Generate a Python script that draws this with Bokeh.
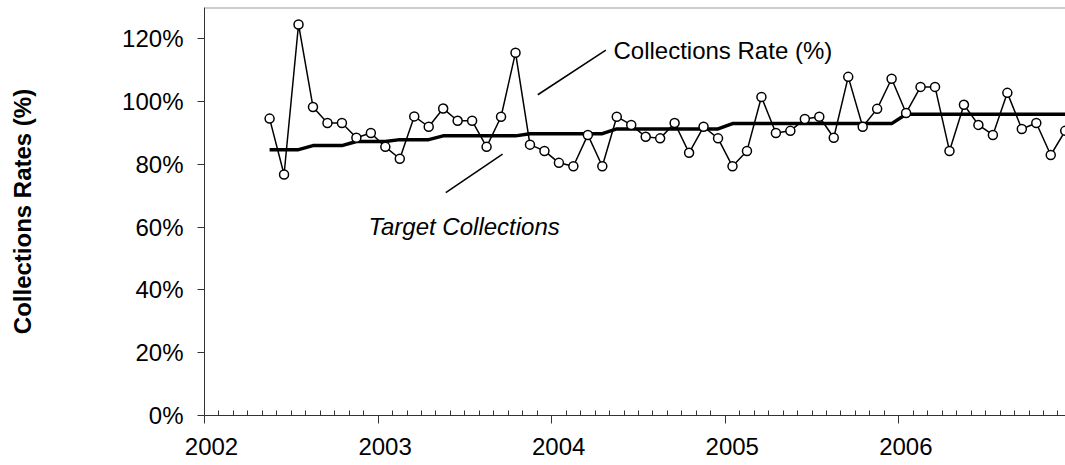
import pandas as pd
from bokeh.plotting import figure
from bokeh.models import (FixedTicker, PrintfTickFormatter, Range1d, Label, Span,
                          ColumnDataSource, LinearAxis, CustomJSTickFormatter)
from bokeh.embed import file_html
from bokeh.resources import INLINE

# ---------------- data ----------------
start_month = "2002-05"
n_months = 56
collections_rate = [
    94.6, 76.8, 124.6, 98.3, 93.2, 93.2, 88.5, 90.0, 85.6, 81.8,
    95.3, 92.0, 97.8, 93.9, 93.9, 85.6, 95.2, 115.6, 86.3, 84.3,
    80.5, 79.4, 89.4, 79.4, 95.2, 92.6, 88.8, 88.3, 93.2, 83.7,
    92.0, 88.3, 79.4, 84.3, 101.5, 90.0, 90.7, 94.5, 95.2, 88.5,
    107.9, 92.0, 97.7, 107.3, 96.4, 104.7, 104.7, 84.3, 99.0, 92.6,
    89.4, 102.8, 91.3, 93.2, 83.0, 90.7,
]
target_collections = (
    [84.7] * 3 + [86.0] * 3 + [87.3] * 3 + [87.9] * 3 + [89.1] * 6 +
    [89.8] * 6 + [91.3] * 8 + [93.0] * 12 + [96.0] * 12
)
year_ticks = [2002, 2003, 2004, 2005, 2006]
y_ticks = [0, 20, 40, 60, 80, 100, 120]

months = pd.date_range(start_month, periods=n_months, freq="MS")
xpos = [m.year + (m.month - 0.5) / 12.0 for m in months]

src = ColumnDataSource(dict(x=xpos, rate=collections_rate, target=target_collections))

FONT = "Liberation Sans"
AX = "#333333"
X0, X1 = 2002.0, 2006.96
PX_PER_YEAR = 173.6
LABEL_SHIFT = 7 / PX_PER_YEAR  # year labels sit slightly right of their ticks

p = figure(width=1065, height=465, output_backend="svg", toolbar_location=None,
           x_range=Range1d(X0, X1), y_range=Range1d(0, 130),
           min_border_left=204, min_border_right=0, min_border_top=7,
           min_border_bottom=50)
p.extra_x_ranges = {"lab": Range1d(X0 - LABEL_SHIFT, X1 - LABEL_SHIFT)}
p.outline_line_color = None
p.background_fill_color = "white"
p.border_fill_color = "white"
p.xgrid.visible = False
p.ygrid.visible = False

# top frame line
p.add_layout(Span(location=130, dimension="width", line_color="#999999", line_width=2))

# series
p.line("x", "target", source=src, line_color="black", line_width=3.5)
p.line("x", "rate", source=src, line_color="black", line_width=1.5)
p.scatter("x", "rate", source=src, size=9, marker="circle",
          fill_color="white", line_color="black", line_width=1.5)

# x axis: ticks only
xa = p.xaxis[0]
minor = [y + m / 12.0 for y in range(2002, 2007) for m in range(1, 12)]
xa.ticker = FixedTicker(ticks=year_ticks, minor_ticks=minor)
xa.formatter = CustomJSTickFormatter(code="return ''")
xa.axis_line_color = AX
xa.major_tick_line_color = AX
xa.minor_tick_line_color = AX
xa.major_tick_in = 0
xa.major_tick_out = 8
xa.minor_tick_in = 5
xa.minor_tick_out = 0
xa.major_label_standoff = 0
xa.major_label_text_font_size = "0px"

# x axis: year labels (shifted range)
xl = LinearAxis(x_range_name="lab", ticker=FixedTicker(ticks=year_ticks))
xl.axis_line_color = None
xl.major_tick_line_color = None
xl.minor_tick_line_color = None
xl.major_tick_in = 0
xl.major_tick_out = 0
xl.minor_tick_in = 0
xl.minor_tick_out = 0
xl.major_label_standoff = 14
xl.major_label_text_font = FONT
xl.major_label_text_font_size = "24px"
xl.major_label_text_color = "black"
p.add_layout(xl, "below")

# y axis
ya = p.yaxis[0]
ya.ticker = FixedTicker(ticks=y_ticks)
ya.formatter = PrintfTickFormatter(format="%d%%")
ya.axis_line_color = AX
ya.major_tick_line_color = AX
ya.minor_tick_line_color = None
ya.major_tick_in = 0
ya.major_tick_out = 7
ya.major_label_standoff = 14
ya.major_label_text_font = FONT
ya.major_label_text_font_size = "24px"
ya.major_label_text_color = "black"
ya.axis_label = "Collections Rates (%)"
ya.axis_label_text_font = FONT
ya.axis_label_text_font_size = "24px"
ya.axis_label_text_font_style = "bold"
ya.axis_label_text_color = "black"
ya.axis_label_standoff = 83

# annotations
p.add_layout(Label(x=2004.356, y=116.3, text="Collections Rate (%)", text_font=FONT,
                   text_font_size="24px", text_align="left", text_baseline="alphabetic",
                   text_color="black"))
p.add_layout(Label(x=2002.945, y=60.1, text="Target Collections", text_font=FONT,
                   text_font_size="24px", text_font_style="italic", text_align="left",
                   text_baseline="alphabetic", text_color="black"))
p.segment(x0=[2003.920, 2003.390], y0=[102.2, 71.0], x1=[2004.312, 2003.717],
          y1=[116.4, 83.3], line_color="black", line_width=1.5)

open("out.html", "w").write(file_html(p, INLINE))
